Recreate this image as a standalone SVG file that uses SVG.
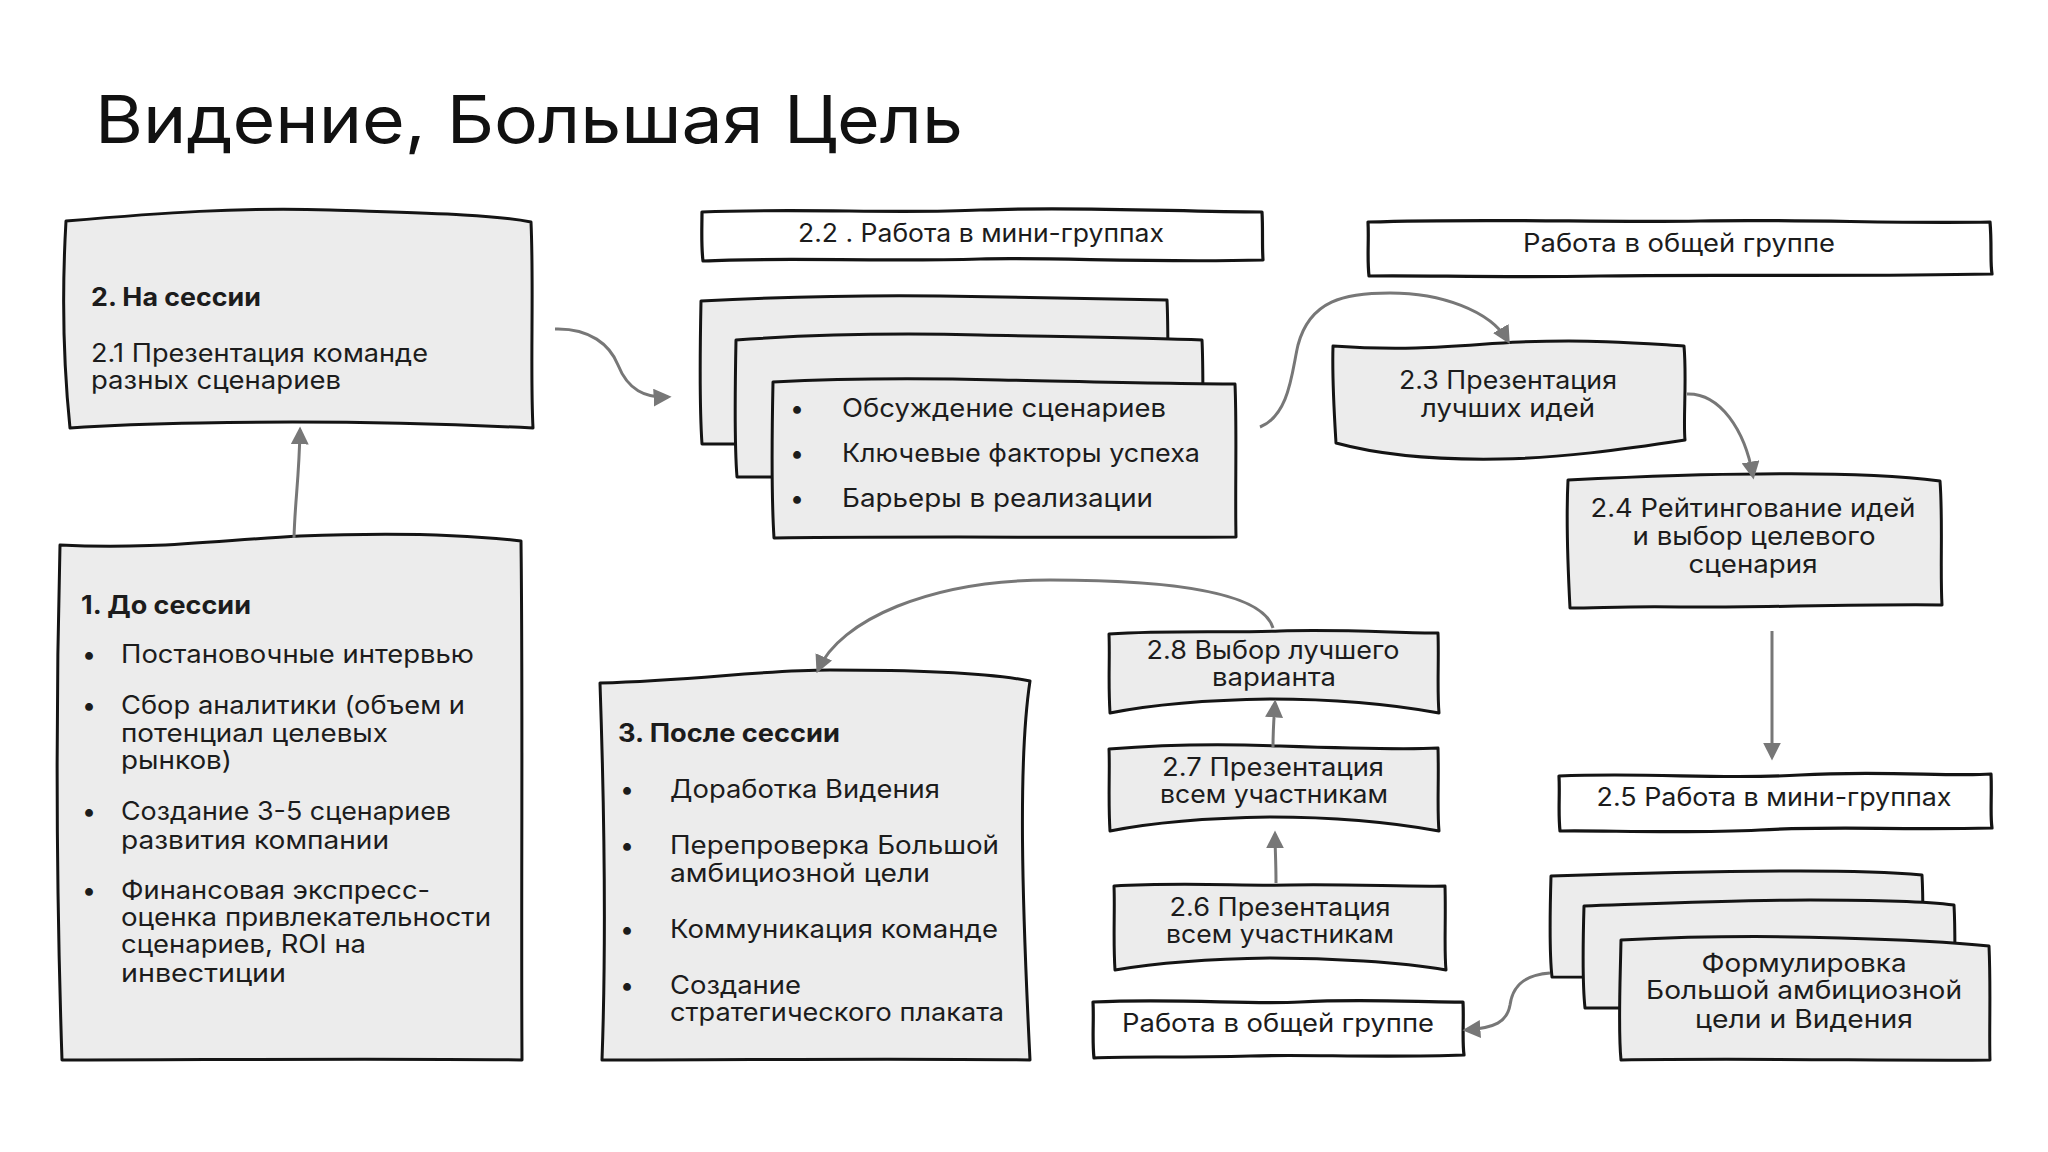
<svg xmlns="http://www.w3.org/2000/svg" width="2048" height="1152" viewBox="0 0 2048 1152">
<defs>
<style>
.box{fill:#ececec;stroke:#141414;stroke-width:3;stroke-linejoin:round}
.hdr{fill:#ffffff;stroke:#141414;stroke-width:3.2;stroke-linejoin:round}
.t{font-family:Inter,"Open Sans","DejaVu Sans",sans-serif;font-size:25px;fill:#1c1c1c}
.c{text-anchor:middle}
.b{font-weight:700}
.title{font-family:Inter,"Open Sans","DejaVu Sans",sans-serif;font-size:66px;fill:#111}
.con{fill:none;stroke:#777;stroke-width:3;marker-end:url(#ah)}
</style>
<marker id="ah" viewBox="0 0 10 10" refX="8" refY="5" markerWidth="18" markerHeight="18" markerUnits="userSpaceOnUse" orient="auto">
<path d="M0,0 L10,5 L0,10 Z" fill="#777"/>
</marker>
</defs>
<rect width="2048" height="1152" fill="#ffffff"/>
<text class="title" x="95" y="143" textLength="868" lengthAdjust="spacingAndGlyphs">Видение, Большая Цель</text>

<g id="node-na-sessii">
<path class="box" d="M66,221 C160,213 240,207 330,210 C420,213 490,214 531,222 C534,290 530,370 533,428 C430,423 300,421 200,423 C140,424 100,426 70,428 C63,360 62,290 66,221 Z"/>
<text class="t b" x="91" y="306" textLength="170" lengthAdjust="spacingAndGlyphs">2. На сессии</text>
<text class="t" x="91" y="362" textLength="337" lengthAdjust="spacingAndGlyphs">2.1 Презентация команде</text>
<text class="t" x="91" y="389" textLength="250" lengthAdjust="spacingAndGlyphs">разных сценариев</text>
</g>

<g id="node-do-sessii">
<path class="box" d="M60,545 C150,550 220,540 300,536 C400,532 470,535 521,541 C523,700 521,900 522,1060 C380,1058 200,1060 62,1060 C56,880 56,700 60,545 Z"/>
<text class="t b" x="81" y="614" textLength="170" lengthAdjust="spacingAndGlyphs">1. До сессии</text>
<text class="t" x="82" y="663">•</text>
<text class="t" x="121" y="663" textLength="353" lengthAdjust="spacingAndGlyphs">Постановочные интервью</text>
<text class="t" x="82" y="714">•</text>
<text class="t" x="121" y="714" textLength="344" lengthAdjust="spacingAndGlyphs">Сбор аналитики (объем и</text>
<text class="t" x="121" y="742" textLength="267" lengthAdjust="spacingAndGlyphs">потенциал целевых</text>
<text class="t" x="121" y="769" textLength="111" lengthAdjust="spacingAndGlyphs">рынков)</text>
<text class="t" x="82" y="820">•</text>
<text class="t" x="121" y="820" textLength="330" lengthAdjust="spacingAndGlyphs">Создание 3-5 сценариев</text>
<text class="t" x="121" y="849" textLength="268" lengthAdjust="spacingAndGlyphs">развития компании</text>
<text class="t" x="82" y="899">•</text>
<text class="t" x="121" y="899" textLength="309" lengthAdjust="spacingAndGlyphs">Финансовая экспресс-</text>
<text class="t" x="121" y="926" textLength="370" lengthAdjust="spacingAndGlyphs">оценка привлекательности</text>
<text class="t" x="121" y="953" textLength="245" lengthAdjust="spacingAndGlyphs">сценариев, ROI на</text>
<text class="t" x="121" y="982" textLength="165" lengthAdjust="spacingAndGlyphs">инвестиции</text>
</g>

<g id="node-hdr-22">
<path class="hdr" d="M702,212 C800,208 900,214 980,210 C1080,206 1180,212 1262,212 C1263,230 1262,245 1263,260 C1150,263 1050,257 980,259 C880,262 780,257 703,261 C701,245 702,228 702,212 Z"/>
<text class="t c" x="981" y="242" textLength="366" lengthAdjust="spacingAndGlyphs">2.2 . Работа в мини-группах</text>
</g>

<g id="node-cards-22">
<path class="box" d="M701,301 C780,297 860,295 940,296 C1030,297 1110,299 1167,300 C1169,340 1167,400 1168,444 C1000,445 850,443 702,444 C699,400 700,350 701,301 Z"/>
<path class="box" d="M736,340 C820,334 900,333 980,335 C1080,337 1150,338 1202,340 C1204,380 1202,440 1203,477 C1050,478 900,476 737,477 C734,440 735,390 736,340 Z"/>
<path class="box" d="M773,382 C850,378 920,378 1000,380 C1100,382 1180,384 1235,384 C1237,430 1235,490 1236,537 C1100,538 900,536 774,538 C771,490 772,430 773,382 Z"/>
<text class="t" x="790" y="417">•</text>
<text class="t" x="842" y="417" textLength="324" lengthAdjust="spacingAndGlyphs">Обсуждение сценариев</text>
<text class="t" x="790" y="462">•</text>
<text class="t" x="842" y="462" textLength="358" lengthAdjust="spacingAndGlyphs">Ключевые факторы успеха</text>
<text class="t" x="790" y="507">•</text>
<text class="t" x="842" y="507" textLength="311" lengthAdjust="spacingAndGlyphs">Барьеры в реализации</text>
</g>

<g id="node-hdr-obshaya-top">
<path class="hdr" d="M1368,222 C1500,218 1600,223 1700,221 C1800,219 1900,224 1990,222 C1992,245 1990,262 1992,274 C1850,277 1700,274 1600,276 C1500,278 1420,275 1369,276 C1367,258 1369,240 1368,222 Z"/>
<text class="t c" x="1679" y="252" textLength="312" lengthAdjust="spacingAndGlyphs">Работа в общей группе</text>
</g>

<g id="node-23">
<path class="box" d="M1333,346 C1420,352 1470,344 1520,342 C1600,339 1650,344 1684,346 C1687,380 1683,420 1685,440 C1620,450 1560,458 1500,459 C1440,460 1380,455 1336,443 C1334,410 1332,380 1333,346 Z"/>
<text class="t c" x="1508" y="389" textLength="218" lengthAdjust="spacingAndGlyphs">2.3 Презентация</text>
<text class="t c" x="1508" y="417" textLength="174" lengthAdjust="spacingAndGlyphs">лучших идей</text>
</g>

<g id="node-24">
<path class="box" d="M1568,480 C1650,476 1700,474 1760,474 C1840,473 1900,476 1940,481 C1943,520 1940,570 1942,605 C1850,604 1750,608 1680,607 C1630,606 1600,608 1570,608 C1568,570 1566,520 1568,480 Z"/>
<text class="t c" x="1753" y="517" textLength="325" lengthAdjust="spacingAndGlyphs">2.4 Рейтингование идей</text>
<text class="t c" x="1754" y="545" textLength="243" lengthAdjust="spacingAndGlyphs">и выбор целевого</text>
<text class="t c" x="1753" y="573" textLength="129" lengthAdjust="spacingAndGlyphs">сценария</text>
</g>

<g id="node-25">
<path class="hdr" d="M1559,776 C1650,772 1720,780 1800,775 C1880,770 1950,777 1991,774 C1992,795 1990,815 1992,828 C1900,830 1820,826 1760,830 C1680,834 1600,830 1560,831 C1558,812 1560,795 1559,776 Z"/>
<text class="t c" x="1774" y="806" textLength="355" lengthAdjust="spacingAndGlyphs">2.5 Работа в мини-группах</text>
</g>

<g id="node-cards-formulirovka">
<path class="box" d="M1551,876 C1640,873 1720,871 1800,871 C1860,871 1900,873 1922,875 C1924,910 1922,950 1923,977 C1800,978 1650,976 1552,977 C1549,950 1550,910 1551,876 Z"/>
<path class="box" d="M1584,906 C1670,903 1740,900 1810,900 C1880,900 1930,902 1954,905 C1956,940 1954,980 1955,1008 C1850,1009 1700,1007 1585,1008 C1582,980 1583,940 1584,906 Z"/>
<path class="box" d="M1621,940 C1700,936 1780,936 1840,938 C1920,940 1970,944 1989,946 C1991,990 1989,1030 1990,1060 C1900,1061 1750,1058 1621,1060 C1618,1030 1620,990 1621,940 Z"/>
<text class="t c" x="1804" y="972" textLength="205" lengthAdjust="spacingAndGlyphs">Формулировка</text>
<text class="t c" x="1804" y="999" textLength="316" lengthAdjust="spacingAndGlyphs">Большой амбициозной</text>
<text class="t c" x="1804" y="1028" textLength="218" lengthAdjust="spacingAndGlyphs">цели и Видения</text>
</g>

<g id="node-hdr-obshaya-bottom">
<path class="hdr" d="M1093,1002 C1180,998 1250,1005 1300,1002 C1370,998 1430,1003 1463,1002 C1464,1020 1462,1040 1464,1055 C1380,1058 1300,1054 1250,1056 C1180,1058 1120,1056 1094,1058 C1092,1040 1094,1020 1093,1002 Z"/>
<text class="t c" x="1278" y="1032" textLength="312" lengthAdjust="spacingAndGlyphs">Работа в общей группе</text>
</g>

<g id="node-26">
<path class="box" d="M1114,886 C1180,882 1240,886 1290,885 C1350,884 1410,887 1445,886 C1446,920 1444,950 1446,970 C1400,962 1330,958 1270,958 C1200,959 1150,964 1115,970 C1113,940 1115,910 1114,886 Z"/>
<text class="t c" x="1280" y="916" textLength="221" lengthAdjust="spacingAndGlyphs">2.6 Презентация</text>
<text class="t c" x="1280" y="943" textLength="228" lengthAdjust="spacingAndGlyphs">всем участникам</text>
</g>

<g id="node-27">
<path class="box" d="M1109,749 C1170,744 1230,744 1280,746 C1340,748 1400,750 1438,748 C1439,780 1437,810 1439,831 C1390,822 1330,817 1270,817 C1200,818 1150,823 1110,831 C1108,800 1110,770 1109,749 Z"/>
<text class="t c" x="1273" y="776" textLength="222" lengthAdjust="spacingAndGlyphs">2.7 Презентация</text>
<text class="t c" x="1274" y="803" textLength="228" lengthAdjust="spacingAndGlyphs">всем участникам</text>
</g>

<g id="node-28">
<path class="box" d="M1109,634 C1170,630 1230,633 1280,631 C1340,629 1400,633 1438,633 C1439,660 1437,690 1439,713 C1390,704 1330,699 1270,699 C1200,700 1150,705 1110,713 C1108,680 1110,660 1109,634 Z"/>
<text class="t c" x="1273" y="659" textLength="253" lengthAdjust="spacingAndGlyphs">2.8 Выбор лучшего</text>
<text class="t c" x="1274" y="686" textLength="124" lengthAdjust="spacingAndGlyphs">варианта</text>
</g>

<g id="node-posle-sessii">
<path class="box" d="M600,683 C700,680 760,670 830,670 C920,670 990,673 1030,681 C1018,760 1022,900 1030,1060 C900,1058 750,1060 602,1060 C606,950 604,800 600,683 Z"/>
<text class="t b" x="618" y="742" textLength="222" lengthAdjust="spacingAndGlyphs">3. После сессии</text>
<text class="t" x="620" y="798">•</text>
<text class="t" x="670" y="798" textLength="270" lengthAdjust="spacingAndGlyphs">Доработка Видения</text>
<text class="t" x="620" y="854">•</text>
<text class="t" x="670" y="854" textLength="329" lengthAdjust="spacingAndGlyphs">Перепроверка Большой</text>
<text class="t" x="670" y="882" textLength="260" lengthAdjust="spacingAndGlyphs">амбициозной цели</text>
<text class="t" x="620" y="938">•</text>
<text class="t" x="670" y="938" textLength="328" lengthAdjust="spacingAndGlyphs">Коммуникация команде</text>
<text class="t" x="620" y="994">•</text>
<text class="t" x="670" y="994" textLength="131" lengthAdjust="spacingAndGlyphs">Создание</text>
<text class="t" x="670" y="1021" textLength="334" lengthAdjust="spacingAndGlyphs">стратегического плаката</text>
</g>

<g id="connectors">
<path class="con" d="M294,538 C295,500 299,480 300,430"/>
<path class="con" d="M555,329 C590,328 610,345 618,365 C628,390 645,398 668,397"/>
<path class="con" d="M1260,427 C1290,415 1292,370 1298,345 C1310,300 1345,293 1390,293 C1440,293 1490,310 1508,341"/>
<path class="con" d="M1687,394 C1720,393 1745,430 1753,476"/>
<path class="con" d="M1772,631 L1772,757"/>
<path class="con" d="M1550,973 C1520,975 1512,990 1510,1005 C1507,1022 1495,1028 1466,1030"/>
<path class="con" d="M1276,883 C1276,860 1275,848 1275,834"/>
<path class="con" d="M1273,747 C1273,728 1274,718 1275,703"/>
<path class="con" d="M1273,628 C1262,590 1160,580 1050,580 C930,580 840,620 818,670"/>
</g>
</svg>
